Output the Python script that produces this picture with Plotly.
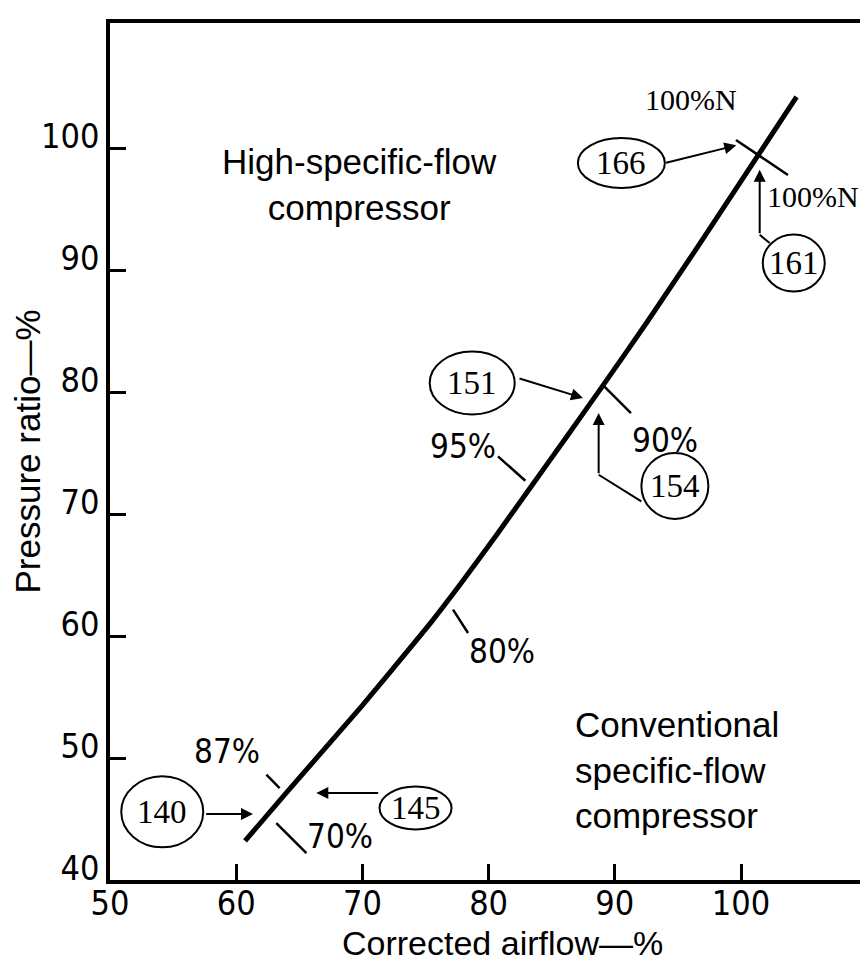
import plotly.graph_objects as go

# ---------------- data ----------------
airflow = [60.7, 64.1, 69.9, 72.0, 75.5, 77.8, 80.5, 83.4, 86.3, 88.9, 92.6, 96.5, 101.35, 104.4]
pressure = [43.2, 47.3, 54.2, 56.8, 61.2, 64.3, 68.1, 72.3, 76.5, 80.3, 85.8, 91.8, 99.4, 104.2]

x_ticks = [50, 60, 70, 80, 90, 100]
y_ticks = [40, 50, 60, 70, 80, 90, 100]

x_title = "Corrected airflow—%"
y_title = "Pressure ratio—%"

# speed marks (short strokes across/at the line)
speed_tick_x0 = [99.6, 89.06, 80.74, 77.18, 62.39, 63.18]
speed_tick_y0 = [100.66, 80.57, 74.73, 62.16, 48.63, 44.67]
speed_tick_x1 = [103.72, 91.28, 82.91, 78.37, 63.44, 65.56]
speed_tick_y1 = [97.79, 78.28, 72.73, 60.25, 47.54, 42.21]

speed_labels = ["100%N", "100%N", "90%", "95%", "80%", "87%", "70%"]
speed_label_x = [96.05, 101.9, 94.0, 78.0, 81.1, 59.3, 68.2]
speed_label_y = [104.0, 96.0, 76.0, 75.5, 58.7, 50.5, 43.6]

# circled point numbers
point_ids = ["166", "161", "151", "154", "145", "140"]
point_x = [90.52, 104.18, 78.7, 94.76, 74.21, 54.14]
point_y = [98.77, 90.57, 80.74, 72.3, 45.9, 45.59]

# arrows (tail -> head)
arrow_tail_x = [93.95, 101.48, 82.33, 88.72, 71.37, 57.5]
arrow_tail_y = [98.77, 92.89, 81.15, 73.22, 47.13, 45.41]
arrow_head_x = [99.63, 101.48, 87.48, 88.72, 66.35, 61.33]
arrow_head_y = [100.22, 98.22, 79.51, 78.28, 47.13, 45.41]

# leader segments from circle to arrow bend (161, 154)
leader_x0 = [102.27, 92.1]
leader_y0 = [92.21, 71.03]
leader_x1 = [101.48, 88.72]
leader_y1 = [92.89, 73.22]

region_labels = ["High-specific-flow<br>compressor", "Conventional<br>specific-flow<br>compressor"]
region_x = [69.8, 86.7]
region_y = [97.0, 49.0]

# ---------------- styles ----------------
ellipse_w = [87, 62, 85, 67, 72, 82]
ellipse_h = [50, 57, 63, 66, 43, 71]

SANS = "Liberation Sans, Arial, sans-serif"
NARROW = "DejaVu Sans Condensed, Liberation Sans Narrow, Liberation Sans, sans-serif"
SERIF = "Liberation Serif, Times New Roman, serif"

fig = go.Figure()
fig.add_trace(go.Scatter(x=airflow, y=pressure, mode="lines",
                         line=dict(color="black", width=5, shape="spline", smoothing=0.5),
                         hoverinfo="skip", showlegend=False))

shapes = []
for x0, y0, x1, y1 in zip(speed_tick_x0, speed_tick_y0, speed_tick_x1, speed_tick_y1):
    shapes.append(dict(type="line", xref="x", yref="y", x0=x0, y0=y0, x1=x1, y1=y1,
                       line=dict(color="black", width=2.5)))
for x0, y0, x1, y1 in zip(leader_x0, leader_y0, leader_x1, leader_y1):
    shapes.append(dict(type="line", xref="x", yref="y", x0=x0, y0=y0, x1=x1, y1=y1,
                       line=dict(color="black", width=2)))
for cx, cy, w, h in zip(point_x, point_y, ellipse_w, ellipse_h):
    shapes.append(dict(type="circle", xref="x", yref="y", xsizemode="pixel", ysizemode="pixel",
                       xanchor=cx, yanchor=cy, x0=-w / 2, x1=w / 2, y0=-h / 2, y1=h / 2,
                       line=dict(color="black", width=2)))

annotations = []
for i, (t, x, y) in enumerate(zip(speed_labels, speed_label_x, speed_label_y)):
    if t.endswith("N"):
        font = dict(family=SERIF, size=30, color="black")
    else:
        font = dict(family=NARROW, size=33, color="black")
    xanchor = "left" if i == 1 else "center"
    annotations.append(dict(x=x, y=y, xref="x", yref="y", text=t, showarrow=False,
                            font=font, xanchor=xanchor, yanchor="middle"))
for t, x, y in zip(point_ids, point_x, point_y):
    annotations.append(dict(x=x, y=y, xref="x", yref="y", text=t, showarrow=False,
                            font=dict(family=SERIF, size=33, color="black"),
                            xanchor="center", yanchor="middle"))
for tx, ty, hx, hy in zip(arrow_tail_x, arrow_tail_y, arrow_head_x, arrow_head_y):
    annotations.append(dict(x=hx, y=hy, ax=tx, ay=ty, xref="x", yref="y", axref="x", ayref="y",
                            text="", showarrow=True, arrowhead=2, arrowsize=1.2, arrowwidth=2,
                            arrowcolor="black", standoff=0, startstandoff=0))
annotations.append(dict(x=region_x[0], y=region_y[0], xref="x", yref="y", text=region_labels[0],
                        showarrow=False, align="center", xanchor="center", yanchor="middle",
                        font=dict(family=SANS, size=35, color="black")))
annotations.append(dict(x=region_x[1], y=region_y[1], xref="x", yref="y", text=region_labels[1],
                        showarrow=False, align="left", xanchor="left", yanchor="middle",
                        font=dict(family=SANS, size=35, color="black")))
# x-axis title placed just below the tick labels
annotations.append(dict(x=0.516, y=-0.073, xref="paper", yref="paper", text=x_title,
                        showarrow=False, xanchor="center", yanchor="middle",
                        font=dict(family=SANS, size=34, color="black")))

fig.update_layout(
    width=868, height=967,
    margin=dict(l=102, r=5, t=15, b=95),
    paper_bgcolor="white", plot_bgcolor="white",
    shapes=shapes, annotations=annotations,
    showlegend=False,
)
fig.update_xaxes(range=[50, 110.3], tickvals=x_ticks, ticktext=[str(v) for v in x_ticks],
                 showgrid=False, zeroline=False, showline=True, linecolor="black", linewidth=3.5,
                 mirror=True, ticks="inside", ticklen=16, tickwidth=2.5, tickcolor="black",
                 tickfont=dict(family=NARROW, size=34, color="black"), ticklabelstandoff=-10,
                 automargin=False)
fig.update_yaxes(range=[40, 110.25], tickvals=y_ticks, ticktext=[str(v) for v in y_ticks],
                 showgrid=False, zeroline=False, showline=True, linecolor="black", linewidth=3.5,
                 mirror=True, ticks="inside", ticklen=16, tickwidth=2.5, tickcolor="black",
                 tickfont=dict(family=NARROW, size=34, color="black"), ticklabelshift=-12,
                 title=dict(text=y_title, font=dict(family=SANS, size=35, color="black"),
                            standoff=0),
                 automargin=False)

fig.write_html("out.html")
